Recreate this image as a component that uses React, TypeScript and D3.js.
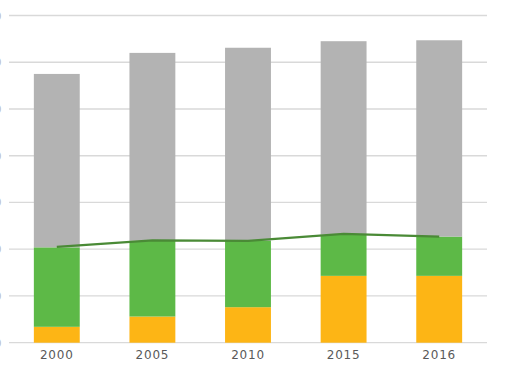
import React from "react";
import * as d3 from "d3";

const categories = ["2000", "2005", "2010", "2015", "2016"];
const orangeValues = [3.4, 5.6, 7.6, 14.3, 14.3];
const greenValues = [17.0, 16.2, 14.2, 8.8, 8.4];
const grayValues = [37.1, 40.2, 41.3, 41.4, 42.0];
const lineValues = [20.5, 21.9, 21.8, 23.3, 22.7];
const yTicks = [0, 10, 20, 30, 40, 50, 60, 70];

const W = 510;
const H = 382;
const colors = { orange: "#FDB515", green: "#5DB947", gray: "#B3B3B3", line: "#4A8A36" };

export default function App() {
  const x = d3.scaleBand<string>().domain(categories).range([9, 487]).paddingInner(0.52).paddingOuter(0.26);
  const y = d3.scaleLinear().domain([0, 70]).range([342.7, 15.5]);

  const rows = categories.map((c, i) => ({ cat: c, orange: orangeValues[i], green: greenValues[i], gray: grayValues[i] }));
  const stack = d3.stack<any>().keys(["orange", "green", "gray"])(rows);

  const line = d3
    .line<number>()
    .x((_, i) => (x(categories[i]) as number) + x.bandwidth() / 2)
    .y((v) => y(v));

  return (
    <svg width={W} height={H} style={{ position: "absolute", left: 0, top: 0 }}>
      <rect width={W} height={H} fill="#fff" />
      {yTicks.map((t) => (
        <g key={t}>
          <line x1={9} x2={487} y1={y(t)} y2={y(t)} stroke="#D9D9D9" strokeWidth={1.3} />
          <text x={1.5} y={y(t) + 4} textAnchor="end" fontSize={11} fill="#BBBBBB" fontFamily="DejaVu Sans">
            {t}
          </text>
        </g>
      ))}
      {stack.map((s) => (
        <g key={s.key} fill={(colors as any)[s.key]}>
          {s.map((d, i) => (
            <rect
              key={i}
              x={x(categories[i])}
              width={x.bandwidth()}
              y={y(d[1])}
              height={y(d[0]) - y(d[1])}
            />
          ))}
        </g>
      ))}
      <path d={line(lineValues) || ""} fill="none" stroke={colors.line} strokeWidth={2.2} />
      {categories.map((c) => (
        <text
          key={c}
          x={(x(c) as number) + x.bandwidth() / 2}
          y={359}
          textAnchor="middle"
          fontSize={12}
          letterSpacing={0.8}
          fill="#595959"
          fontFamily="DejaVu Sans"
        >
          {c}
        </text>
      ))}
    </svg>
  );
}
